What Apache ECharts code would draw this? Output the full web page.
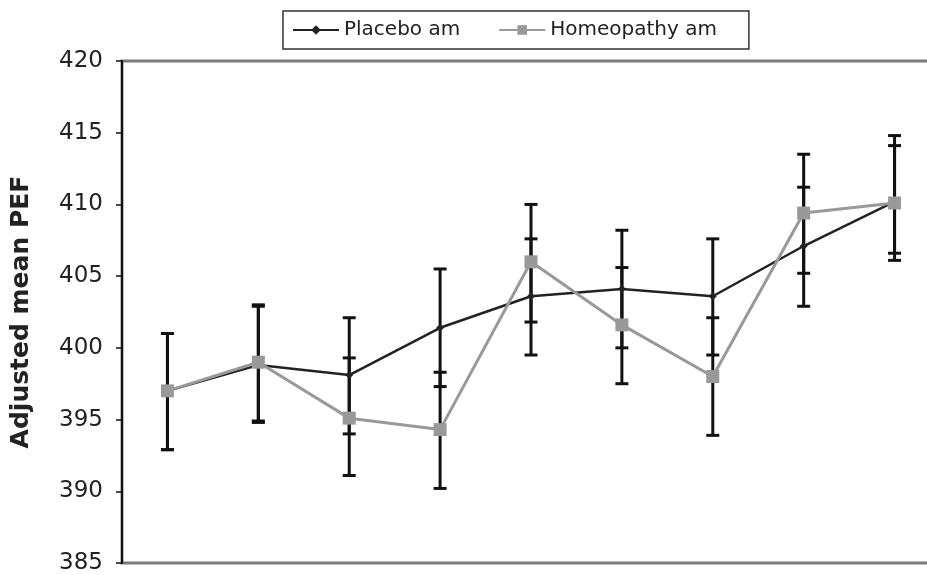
<!DOCTYPE html>
<html>
<head>
<meta charset="utf-8">
<script src="https://cdn.jsdelivr.net/npm/echarts@6/dist/echarts.min.js"></script>
<style>
  html, body { margin: 0; padding: 0; background: #fff; overflow: hidden; }
  /* the plot runs past the right edge of the picture, as in the original */
  #chart { width: 940px; height: 575px; }
</style>
</head>
<body>
<div id="chart"></div>
<script>
// time points (no labels shown on the axis)
const timePoints = ['1', '2', '3', '4', '5', '6', '7', '8', '9'];

// Placebo am: adjusted mean and error bar ends
const placeboMean = [397.0, 398.8, 398.1, 401.4, 403.6, 404.1, 403.6, 407.1, 410.2];
const placeboLow  = [392.9, 394.8, 394.0, 397.3, 399.5, 400.0, 399.5, 402.9, 406.1];
const placeboHigh = [401.0, 402.9, 402.1, 405.5, 407.6, 408.2, 407.6, 411.2, 414.1];

// Homeopathy am
const homeoMean = [397.0, 399.0, 395.1, 394.3, 406.0, 401.6, 398.0, 409.4, 410.1];
const homeoLow  = [392.9, 394.9, 391.1, 390.2, 401.8, 397.5, 393.9, 405.2, 406.6];
const homeoHigh = [401.0, 403.0, 399.3, 398.3, 410.0, 405.6, 402.1, 413.5, 414.8];

const yTicks = { min: 385, max: 420, step: 5 };

var chart = echarts.init(document.getElementById('chart'), null, { renderer: 'canvas' });

function errData(low, high) {
    var out = [];
    for (var i = 0; i < low.length; i++) {
        out.push([i, low[i], high[i]]);
    }
    return out;
}

function renderErr(params, api) {
    var x = api.value(0);
    var lo = api.coord([x, api.value(1)]);
    var hi = api.coord([x, api.value(2)]);
    var cap = 6.5;
    var st = { stroke: '#111', lineWidth: 3 };
    return {
        type: 'group',
        children: [
            { type: 'line', shape: { x1: lo[0], y1: lo[1], x2: hi[0], y2: hi[1] }, style: st },
            { type: 'line', shape: { x1: lo[0] - cap, y1: lo[1], x2: lo[0] + cap, y2: lo[1] }, style: st },
            { type: 'line', shape: { x1: hi[0] - cap, y1: hi[1], x2: hi[0] + cap, y2: hi[1] }, style: st }
        ]
    };
}

var option = {
    animation: false,
    backgroundColor: '#fff',
    textStyle: { fontFamily: 'DejaVu Sans' },
    legend: {
        left: 283,
        top: 11,
        padding: [9, 32, 9, 9],
        itemWidth: 46,
        itemHeight: 12,
        itemGap: 38,
        borderColor: '#333',
        borderWidth: 1.5,
        borderRadius: 0,
        textStyle: { fontSize: 20, color: '#222', padding: [0, 0, 0, 0] },
        data: ['Placebo am', 'Homeopathy am']
    },
    grid: {
        left: 122,
        top: 61,
        bottom: 12,
        right: 0,
        show: true,
        borderColor: '#7a7a7a',
        borderWidth: 3,
        backgroundColor: 'transparent'
    },
    xAxis: {
        type: 'category',
        data: timePoints,
        boundaryGap: true,
        axisLine: { show: false },
        axisTick: { show: false },
        axisLabel: { show: false },
        splitLine: { show: false }
    },
    yAxis: {
        type: 'value',
        min: yTicks.min,
        max: yTicks.max,
        interval: yTicks.step,
        name: 'Adjusted mean PEF',
        nameLocation: 'middle',
        nameGap: 88,
        nameTextStyle: { fontSize: 25, fontWeight: 'bold', color: '#222' },
        axisLine: { show: true, lineStyle: { color: '#111', width: 2 } },
        axisTick: { show: true, inside: false, length: 6, lineStyle: { color: '#111', width: 1.5 } },
        axisLabel: { fontSize: 23, color: '#222', margin: 19 },
        splitLine: { show: false }
    },
    series: [
        {
            name: 'Placebo err',
            type: 'custom',
            renderItem: renderErr,
            encode: { x: 0, y: [1, 2] },
            data: errData(placeboLow, placeboHigh),
            z: 1
        },
        {
            name: 'Homeopathy err',
            type: 'custom',
            renderItem: renderErr,
            encode: { x: 0, y: [1, 2] },
            data: errData(homeoLow, homeoHigh),
            z: 1
        },
        {
            name: 'Placebo am',
            type: 'line',
            data: placeboMean,
            symbol: 'diamond',
            symbolSize: 8,
            itemStyle: { color: '#222' },
            lineStyle: { color: '#222', width: 2.5 },
            z: 3
        },
        {
            name: 'Homeopathy am',
            type: 'line',
            data: homeoMean,
            symbol: 'rect',
            symbolSize: 13,
            itemStyle: { color: '#999' },
            lineStyle: { color: '#999', width: 3 },
            z: 4
        }
    ]
};

chart.setOption(option);
window.addEventListener('resize', chart.resize);
</script>
</body>
</html>
